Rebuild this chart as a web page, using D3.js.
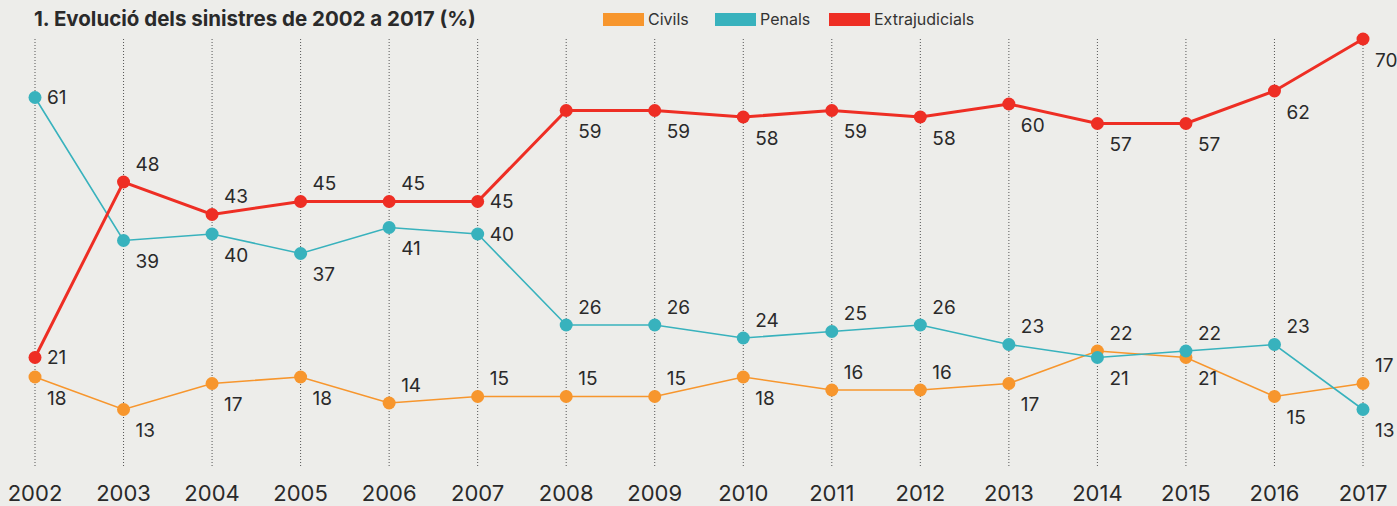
<!DOCTYPE html>
<html>
<head>
<meta charset="utf-8">
<script src="https://cdn.jsdelivr.net/npm/d3@7"></script>
<style>
  body { margin: 0; background: #ededea; }
  svg { display: block; font-family: Inter, "Noto Sans", sans-serif; }
</style>
</head>
<body>
<svg id="chart" width="1397" height="506"></svg>
<script>
// data (percentages)
const years = ["2002","2003","2004","2005","2006","2007","2008","2009","2010","2011","2012","2013","2014","2015","2016","2017"];
const civils = [18, 13, 17, 18, 14, 15, 15, 15, 18, 16, 16, 17, 22, 21, 15, 17];
const penals = [61, 39, 40, 37, 41, 40, 26, 26, 24, 25, 26, 23, 21, 22, 23, 13];
const extrajudicials = [21, 48, 43, 45, 45, 45, 59, 59, 58, 59, 58, 60, 57, 57, 62, 70];
// where each value label sits: r = right, a = above right, b = below right
const civilsLabelPos = ["b","b","b","b","a","a","a","a","b","a","a","b","a","b","b","a"];
const penalsLabelPos = ["r","b","b","b","b","r","a","a","a","a","a","a","b","a","a","b"];
const extraLabelPos = ["r","a","a","a","a","r","b","b","b","b","b","b","b","b","b","b"];

const seriesNames = ["Civils", "Penals", "Extrajudicials"];
const seriesColors = ["#f7962d", "#38b2bd", "#ee2e24"];

const series = [
    {name: seriesNames[0], values: civils, pos: civilsLabelPos, color: seriesColors[0], width: 1.6},
    {name: seriesNames[1], values: penals, pos: penalsLabelPos, color: seriesColors[1], width: 1.6},
    {name: seriesNames[2], values: extrajudicials, pos: extraLabelPos, color: seriesColors[2], width: 3}
];

const svg = d3.select("#chart");
const textColor = "#2a2a2a";

const x = d3.scalePoint().domain(years).range([35, 1363]);
const y = d3.scaleLinear().domain([0, 70]).range([494, 39]);

// dotted year guides
svg.append("g")
    .selectAll("line")
    .data(years)
    .join("line")
    .attr("x1", d => x(d)).attr("x2", d => x(d))
    .attr("y1", 39).attr("y2", 466)
    .attr("stroke", "#555")
    .attr("stroke-width", 1)
    .attr("stroke-dasharray", "1,2");

// year labels
svg.append("g")
    .attr("font-size", 22)
    .attr("fill", textColor)
    .attr("text-anchor", "middle")
    .selectAll("text")
    .data(years)
    .join("text")
    .attr("x", d => x(d))
    .attr("y", 501)
    .text(d => d);

// title
svg.append("text")
    .attr("x", 34)
    .attr("y", 26)
    .attr("font-size", 20.5)
    .attr("font-weight", 700)
    .attr("fill", textColor)
    .text("1. Evolució dels sinistres de 2002 a 2017 (%)");

// legend
const legendX = [603, 715, 829];
const legend = svg.append("g")
    .selectAll("g")
    .data(series)
    .join("g")
    .attr("transform", (d, i) => `translate(${legendX[i]},13)`);
legend.append("rect")
    .attr("width", 41).attr("height", 13)
    .attr("fill", d => d.color);
legend.append("text")
    .attr("x", 45).attr("y", 12)
    .attr("font-size", 16)
    .attr("fill", "#333")
    .text(d => d.name);

const line = d3.line()
    .x((d, i) => x(years[i]))
    .y(d => y(d));

const groups = svg.append("g")
    .selectAll("g")
    .data(series)
    .join("g");

groups.append("path")
    .attr("fill", "none")
    .attr("stroke", d => d.color)
    .attr("stroke-width", d => d.width)
    .attr("d", d => line(d.values));

groups.selectAll("circle")
    .data(d => d.values.map((v, i) => ({v, i, color: d.color})))
    .join("circle")
    .attr("cx", d => x(years[d.i]))
    .attr("cy", d => y(d.v))
    .attr("r", 6.5)
    .attr("fill", d => d.color);

const labelDy = {r: 0, a: -18, b: 21};
groups.selectAll("text")
    .data(d => d.values.map((v, i) => ({v, i, pos: d.pos[i]})))
    .join("text")
    .attr("x", d => x(years[d.i]) + 12)
    .attr("y", d => y(d.v) + labelDy[d.pos])
    .attr("dy", "0.36em")
    .attr("font-size", 19)
    .attr("fill", textColor)
    .text(d => d.v);
</script>
</body>
</html>
